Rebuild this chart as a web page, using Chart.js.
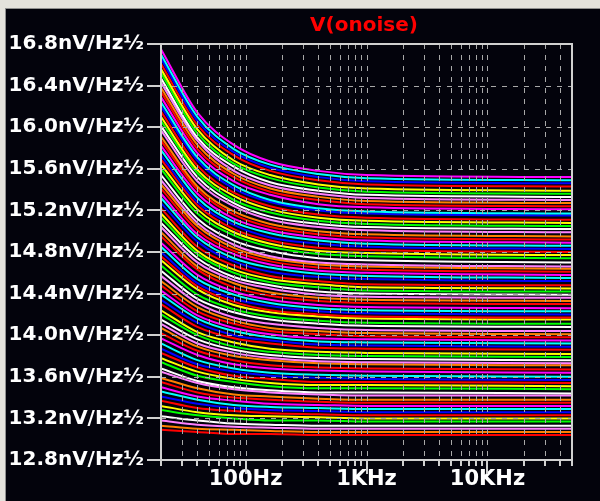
<!DOCTYPE html>
<html>
<head>
<meta charset="utf-8">
<script src="https://cdn.jsdelivr.net/npm/chart.js@4.4.1/dist/chart.umd.min.js"></script>
<style>
html,body{margin:0;padding:0;width:600px;height:501px;overflow:hidden;background:#e4e2dc;}
#wrap{position:absolute;left:5px;top:8px;width:595px;height:493px;background:#03030c;border-top:1px solid #909090;border-left:1px solid #909090;box-sizing:border-box;}
#c{position:absolute;left:-1px;top:-1px;}
</style>
</head>
<body>
<div id="wrap"><canvas id="c" width="595" height="493"></canvas></div>
<script>
// ---- data ----
const chartTitle = 'V(onoise)';
const freqsHz = [20, 40, 80, 160, 400, 1000, 50000];

const hz20 = [
16.75,16.70,16.66,16.61,16.56,16.52,16.47,16.43,16.38,16.34,
16.29,16.24,16.20,16.15,16.10,16.06,16.01,15.97,15.91,15.87,
15.82,15.78,15.73,15.69,15.64,15.60,15.54,15.49,15.45,15.41,
15.36,15.32,15.27,15.22,15.17,15.13,15.08,15.04,14.99,14.95,
14.89,14.85,14.80,14.76,14.72,14.67,14.62,14.57,14.52,14.48,
14.43,14.39,14.34,14.30,14.24,14.20,14.15,14.11,14.07,14.02,
13.97,13.92,13.87,13.83,13.78,13.74,13.68,13.65,13.59,13.55,
13.50,13.46,13.41,13.37,13.32,13.28,13.22,13.18,13.13,13.09];

const hz40 = [
16.14,16.10,16.06,16.02,15.98,15.94,15.90,15.87,15.83,15.79,
15.75,15.71,15.68,15.63,15.59,15.56,15.52,15.48,15.43,15.40,
15.36,15.32,15.28,15.25,15.21,15.17,15.12,15.08,15.05,15.01,
14.97,14.94,14.90,14.85,14.81,14.78,14.74,14.70,14.66,14.63,
14.58,14.54,14.50,14.47,14.44,14.39,14.35,14.31,14.27,14.23,
14.19,14.16,14.12,14.08,14.03,14.00,13.96,13.92,13.89,13.85,
13.81,13.76,13.72,13.69,13.65,13.61,13.56,13.54,13.49,13.45,
13.41,13.38,13.34,13.30,13.26,13.23,13.18,13.14,13.10,13.07];

const hz80 = [
15.83,15.79,15.76,15.73,15.68,15.65,15.62,15.58,15.55,15.52,
15.48,15.44,15.41,15.37,15.34,15.30,15.27,15.24,15.19,15.16,
15.12,15.09,15.06,15.02,14.99,14.96,14.91,14.87,14.84,14.81,
14.78,14.74,14.71,14.67,14.63,14.60,14.56,14.53,14.50,14.46,
14.42,14.39,14.35,14.32,14.29,14.25,14.22,14.17,14.14,14.11,
14.07,14.04,14.00,13.97,13.93,13.89,13.86,13.83,13.80,13.76,
13.72,13.68,13.65,13.61,13.58,13.55,13.50,13.48,13.43,13.40,
13.37,13.33,13.30,13.27,13.23,13.20,13.15,13.12,13.09,13.05];

const hz160 = [
15.67,15.64,15.61,15.58,15.54,15.51,15.47,15.44,15.41,15.38,
15.35,15.30,15.28,15.24,15.21,15.18,15.14,15.11,15.07,15.04,
15.01,14.98,14.94,14.91,14.88,14.85,14.81,14.76,14.74,14.71,
14.68,14.65,14.61,14.57,14.54,14.51,14.48,14.45,14.41,14.38,
14.34,14.31,14.28,14.24,14.22,14.18,14.15,14.11,14.07,14.04,
14.01,13.98,13.95,13.92,13.87,13.84,13.81,13.78,13.76,13.71,
13.68,13.64,13.61,13.58,13.54,13.51,13.47,13.45,13.41,13.38,
13.34,13.31,13.28,13.25,13.22,13.18,13.14,13.11,13.08,13.05];

const hz400 = [
15.58,15.55,15.52,15.49,15.45,15.42,15.39,15.36,15.33,15.30,
15.26,15.22,15.20,15.16,15.13,15.10,15.07,15.04,15.00,14.97,
14.94,14.91,14.88,14.84,14.81,14.78,14.74,14.70,14.68,14.65,
14.62,14.59,14.56,14.52,14.49,14.46,14.42,14.39,14.36,14.33,
14.29,14.26,14.23,14.20,14.18,14.14,14.11,14.07,14.04,14.01,
13.97,13.94,13.91,13.88,13.84,13.81,13.78,13.75,13.73,13.69,
13.66,13.62,13.59,13.55,13.52,13.49,13.45,13.43,13.39,13.36,
13.33,13.30,13.27,13.24,13.21,13.18,13.13,13.10,13.07,13.04];

const hz1k = [
15.54,15.51,15.48,15.45,15.41,15.38,15.35,15.32,15.29,15.26,
15.23,15.19,15.17,15.13,15.10,15.07,15.04,15.01,14.97,14.94,
14.91,14.88,14.85,14.82,14.79,14.76,14.72,14.68,14.66,14.63,
14.60,14.57,14.54,14.49,14.46,14.43,14.40,14.37,14.34,14.31,
14.27,14.24,14.21,14.18,14.16,14.12,14.09,14.05,14.02,13.99,
13.96,13.93,13.90,13.87,13.83,13.80,13.77,13.74,13.72,13.68,
13.65,13.61,13.58,13.55,13.52,13.49,13.45,13.42,13.38,13.35,
13.32,13.29,13.26,13.23,13.20,13.17,13.13,13.10,13.07,13.04];

const hz50k = [
15.52,15.49,15.46,15.43,15.39,15.36,15.33,15.30,15.27,15.24,
15.21,15.17,15.15,15.11,15.08,15.05,15.02,14.99,14.95,14.92,
14.89,14.86,14.83,14.80,14.77,14.74,14.70,14.66,14.64,14.61,
14.58,14.55,14.52,14.48,14.45,14.42,14.39,14.36,14.33,14.30,
14.26,14.23,14.20,14.17,14.15,14.11,14.08,14.04,14.01,13.98,
13.95,13.92,13.89,13.86,13.82,13.79,13.76,13.73,13.71,13.67,
13.64,13.60,13.57,13.54,13.51,13.48,13.44,13.42,13.38,13.35,
13.32,13.29,13.26,13.23,13.20,13.17,13.13,13.10,13.07,13.04];

const traceColors = ['#ff00ff','#00ffff','#0000ff','#ff0000','#ffff00','#00ff00','#ffffff','#ff80ff','#ff8000','#ff0000'];

const yTickValues = [12.8,13.2,13.6,14.0,14.4,14.8,15.2,15.6,16.0,16.4,16.8];
const xTickValues = [100, 1000, 10000];
const xTickLabels = ['100Hz', '1KHz', '10KHz'];
const gridFreqs = [30,40,50,60,70,80,90,100,200,300,400,500,600,700,800,900,1000,
                   2000,3000,4000,5000,6000,7000,8000,9000,10000,20000,30000,40000];
const xMin = 20, xMax = 50000, yMin = 12.8, yMax = 16.8;

// ---- build chart ----
const columns = [hz20, hz40, hz80, hz160, hz400, hz1k, hz50k];
const datasets = hz20.map((_, i) => ({
  data: freqsHz.map((f, k) => ({ x: f, y: columns[k][i] })),
  borderColor: traceColors[i % traceColors.length],
  borderWidth: 2,
  pointRadius: 0,
  fill: false,
  cubicInterpolationMode: 'monotone'
}));

const gridColor = '#a8a8a8';
const frameColor = '#d0d0d0';

const ltPlugin = {
  id: 'ltspiceFrame',
  afterDatasetsDraw(chart) {
    const { ctx, chartArea: a, scales } = chart;
    const x = scales.x, y = scales.y;
    ctx.save();
    ctx.strokeStyle = gridColor;
    ctx.lineWidth = 1;
    ctx.setLineDash([5, 6]);
    gridFreqs.forEach(f => {
      const px = Math.round(x.getPixelForValue(f)) + 0.5;
      ctx.beginPath(); ctx.moveTo(px, a.top); ctx.lineTo(px, a.bottom); ctx.stroke();
    });
    yTickValues.forEach(v => {
      if (v <= yMin || v >= yMax) return;
      const py = Math.round(y.getPixelForValue(v)) + 0.5;
      ctx.beginPath(); ctx.moveTo(a.left, py); ctx.lineTo(a.right, py); ctx.stroke();
    });
    ctx.setLineDash([]);
    ctx.strokeStyle = frameColor;
    ctx.lineWidth = 2;
    ctx.strokeRect(a.left, a.top, a.right - a.left, a.bottom - a.top);
    yTickValues.forEach(v => {
      const py = Math.round(y.getPixelForValue(v));
      ctx.beginPath(); ctx.moveTo(a.left - 14, py); ctx.lineTo(a.left, py); ctx.stroke();
    });
    [xMin, ...gridFreqs, xMax].forEach(f => {
      const px = Math.round(x.getPixelForValue(f));
      const len = xTickValues.includes(f) ? 14 : 6;
      ctx.beginPath(); ctx.moveTo(px, a.bottom); ctx.lineTo(px, a.bottom + len); ctx.stroke();
    });
    ctx.font = 'bold 20px "DejaVu Sans"';
    ctx.fillStyle = '#ff0000';
    ctx.textAlign = 'center';
    ctx.textBaseline = 'alphabetic';
    ctx.fillText(chartTitle, 359, 23);
    ctx.restore();
  }
};

new Chart(document.getElementById('c'), {
  type: 'line',
  data: { datasets },
  plugins: [ltPlugin],
  options: {
    responsive: false,
    animation: false,
    events: [],
    layout: { padding: { top: 36, right: 28, left: 0, bottom: 0 } },
    plugins: { legend: { display: false }, title: { display: false }, tooltip: { enabled: false } },
    scales: {
      x: {
        type: 'logarithmic',
        min: xMin, max: xMax,
        grid: { display: false, drawTicks: false },
        border: { display: false },
        afterBuildTicks: s => { s.ticks = xTickValues.map(v => ({ value: v })); },
        afterFit: s => { s.height = 41; },
        ticks: {
          autoSkip: false, maxRotation: 0, padding: 7,
          color: '#ffffff',
          font: { family: '"DejaVu Sans"', size: 21, weight: 'bold' },
          callback: (v) => xTickLabels[xTickValues.indexOf(v)] ?? ''
        }
      },
      y: {
        type: 'linear',
        min: yMin, max: yMax,
        grid: { display: false, drawTicks: false },
        border: { display: false },
        afterBuildTicks: s => { s.ticks = yTickValues.map(v => ({ value: v })); },
        afterFit: s => { s.width = 156; },
        ticks: {
          padding: 17,
          color: '#ffffff',
          font: { family: '"DejaVu Sans"', size: 20, weight: 'bold' },
          callback: (v) => Number(v).toFixed(1) + 'nV/Hz½'
        }
      }
    }
  }
});
</script>
</body>
</html>
